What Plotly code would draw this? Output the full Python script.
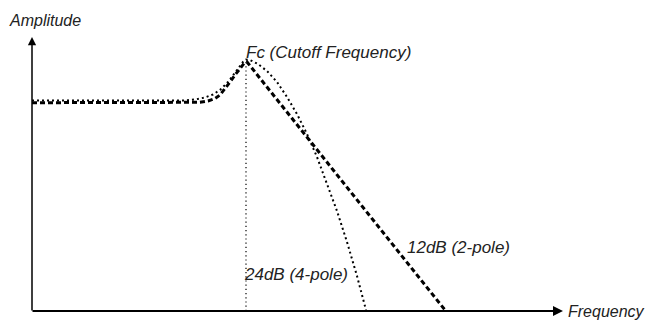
import plotly.graph_objects as go

# Frequency response curves (coordinates in the chart's drawing units; y grows downward)
freq_12db = [32, 190, 200, 208, 215, 220, 225, 230, 235, 240, 244, 247, 445]
amp_12db = [102.7, 102.7, 102.3, 101, 98.5, 95, 89, 82, 75, 68, 63.5, 62, 310]

freq_24db = [32, 185, 195, 205, 213, 220, 228, 234, 239, 243, 246, 250, 258, 267,
             277, 287, 297, 307, 317, 327, 337, 347, 357, 366]
amp_24db = [100.5, 100.5, 99.5, 97.5, 94.5, 90, 82, 74, 67, 62, 59.5, 60, 64, 71,
            82, 97, 114, 134, 157, 183, 211, 242, 276, 310]

cutoff_freq = 246
cutoff_amp = 62
axis_origin = (32, 311)
axis_top = 37
axis_right = 563

labels = {
    "amplitude": "Amplitude",
    "frequency": "Frequency",
    "cutoff": "Fc (Cutoff Frequency)",
    "pole4": "24dB (4-pole)",
    "pole2": "12dB (2-pole)",
}

fig = go.Figure()

fig.add_trace(go.Scatter(
    x=[cutoff_freq, cutoff_freq], y=[cutoff_amp, axis_origin[1]], mode="lines",
    line=dict(color="black", width=1.2, dash="1.2px,3px"), hoverinfo="skip"))
fig.add_trace(go.Scatter(
    x=freq_24db, y=amp_24db, mode="lines",
    line=dict(color="black", width=2, dash="2px,3px"), hoverinfo="skip"))
fig.add_trace(go.Scatter(
    x=freq_12db, y=amp_12db, mode="lines",
    line=dict(color="black", width=3, dash="5px,3px"), hoverinfo="skip"))

font17 = dict(family="Liberation Sans, Arial, sans-serif", size=17, color="#222")
font16 = dict(family="Liberation Sans, Arial, sans-serif", size=16, color="#222")

annotations = [
    # axes with arrowheads
    dict(x=axis_origin[0], y=axis_top, ax=axis_origin[0], ay=axis_origin[1] + 1,
         xref="x", yref="y", axref="x", ayref="y", text="", showarrow=True,
         arrowhead=2, arrowsize=1.1, arrowwidth=1.5, arrowcolor="black", standoff=0),
    dict(x=axis_right, y=axis_origin[1], ax=axis_origin[0] - 1, ay=axis_origin[1],
         xref="x", yref="y", axref="x", ayref="y", text="", showarrow=True,
         arrowhead=2, arrowsize=1, arrowwidth=2, arrowcolor="black", standoff=0),
]

def label(text, x, y, font):
    return dict(x=x, y=y, xref="x", yref="y", text="<i>" + text + "</i>",
                showarrow=False, xanchor="left", yanchor="middle", font=font)

annotations += [
    label(labels["amplitude"], 7, 20, font16),
    label(labels["frequency"], 566, 311, font16),
    label(labels["cutoff"], 244, 52, font17),
    label(labels["pole4"], 242, 274.5, font17),
    label(labels["pole2"], 405, 247.5, font17),
]

fig.update_layout(
    width=645, height=320,
    margin=dict(l=0, r=0, t=0, b=0),
    paper_bgcolor="white", plot_bgcolor="white",
    showlegend=False,
    xaxis=dict(range=[0, 645], visible=False, fixedrange=True),
    yaxis=dict(range=[320, 0], visible=False, fixedrange=True),
    annotations=annotations,
)

fig.write_html("out.html", config={"displayModeBar": False},
               post_script="document.body.style.margin='0';document.body.style.overflow='hidden';")
